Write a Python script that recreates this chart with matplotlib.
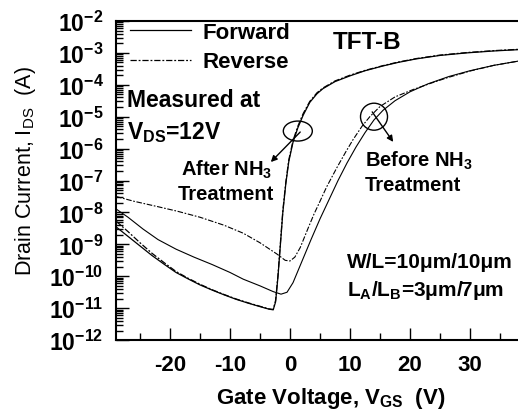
import matplotlib
matplotlib.use("Agg")
import matplotlib.pyplot as plt
from matplotlib.patches import Ellipse
from matplotlib.ticker import FixedLocator, FuncFormatter, LogLocator, MultipleLocator, NullFormatter
from matplotlib.transforms import ScaledTranslation
import numpy as np

plt.rcParams["font.family"] = ["Liberation Sans", "DejaVu Sans"]
plt.rcParams["mathtext.fontset"] = "custom"
plt.rcParams["mathtext.rm"] = "Liberation Sans"
plt.rcParams["mathtext.bf"] = "Liberation Sans:bold"
plt.rcParams["axes.unicode_minus"] = False

# gate voltage (V) and log10(drain current / A)
after_fwd_v = [-29, -27, -25, -23, -21, -19, -17, -15, -13, -11, -9, -7, -5, -3.5, -2.8,
               -2.4, -2.0, -1.6, -1.2, -0.7, -0.2, 0.5, 1.3, 2.2, 3.3, 4.5, 5.5, 7.5,
               10, 12.5, 15.5, 18, 21, 25, 29.5, 34, 38]
after_fwd_log = [-8.45, -8.75, -9.05, -9.35, -9.62, -9.88, -10.08, -10.27, -10.43, -10.58,
                 -10.72, -10.84, -10.95, -11.03, -11.05, -10.8, -10.0, -9.0, -8.0, -7.1,
                 -6.4, -5.8, -5.35, -4.95, -4.55, -4.28, -4.12, -3.9, -3.72, -3.56, -3.41,
                 -3.3, -3.19, -3.08, -3.0, -2.94, -2.9]

after_rev_v = [-29, -27, -25, -23, -21, -19, -17, -15, -13, -11, -9, -7, -5, -3.5, -2.8,
               -2.4, -2.0, -1.6, -1.2, -0.7, -0.2, 0.5, 1.3, 2.2, 3.3, 4.5, 5.5, 7.5,
               10, 12.5, 15.5, 18, 21, 25, 29.5, 34, 38]
after_rev_log = [-8.27, -8.6, -8.95, -9.28, -9.57, -9.85, -10.06, -10.25, -10.42, -10.57,
                 -10.71, -10.83, -10.94, -11.02, -11.04, -10.75, -9.95, -8.95, -7.95, -7.05,
                 -6.35, -5.75, -5.3, -4.9, -4.52, -4.25, -4.1, -3.88, -3.7, -3.55, -3.4,
                 -3.29, -3.18, -3.07, -2.99, -2.93, -2.89]

before_fwd_v = [-29, -27, -24.5, -22, -19, -16, -13, -10, -7.8, -5, -2.8, -1.5, -0.5, 0.5,
                1.5, 2.5, 3.5, 5, 6.5, 8, 9.5, 11, 12.5, 14, 15.5, 17.5, 20, 23, 26.5,
                30, 34, 38]
before_fwd_log = [-7.89, -8.15, -8.52, -8.85, -9.15, -9.4, -9.63, -9.88, -10.09, -10.3,
                  -10.48, -10.56, -10.5, -10.2, -9.75, -9.3, -8.85, -8.2, -7.6, -7.0,
                  -6.45, -5.95, -5.5, -5.1, -4.8, -4.5, -4.22, -3.97, -3.74, -3.56,
                  -3.39, -3.26]

before_rev_v = [-29, -26, -22, -18.8, -15, -11, -7.8, -5, -2.2, -0.8, 0, 0.8, 1.7, 3, 4,
                5, 6.1, 7.8, 9.3, 10.5, 12, 13.3, 15, 17.5, 20.5, 23.5, 26.2, 30, 34, 38]
before_rev_log = [-7.5, -7.65, -7.82, -7.96, -8.15, -8.4, -8.65, -8.95, -9.3, -9.5, -9.52,
                  -9.4, -9.1, -8.5, -8.05, -7.65, -7.2, -6.6, -6.1, -5.72, -5.3, -5.0,
                  -4.68, -4.38, -4.15, -3.95, -3.78, -3.57, -3.39, -3.26]

x_ticks = [-20, -10, 0, 10, 20, 30]
y_decades = list(range(-12, -1))

fig = plt.figure(figsize=(5.18, 4.14), dpi=100)
ax = fig.add_axes([0.224, 0.176, 0.776, 0.771])

dashdot = (0, (5, 1.5, 1.5, 1.5))
l_fwd, = ax.plot(after_fwd_v, 10 ** np.array(after_fwd_log), color="black", lw=0.9)
l_rev, = ax.plot(after_rev_v, 10 ** np.array(after_rev_log), color="black", lw=0.9, ls=dashdot)
ax.plot(before_fwd_v, 10 ** np.array(before_fwd_log), color="black", lw=0.8)
ax.plot(before_rev_v, 10 ** np.array(before_rev_log), color="black", lw=0.8, ls=dashdot)

ax.set_yscale("log")
ax.set_xlim(-29, 38)
ax.set_ylim(1e-12, 1e-2)

ax.xaxis.set_major_locator(FixedLocator(x_ticks))
ax.xaxis.set_minor_locator(MultipleLocator(5))
ax.yaxis.set_major_locator(FixedLocator([10.0 ** d for d in y_decades]))
ax.yaxis.set_minor_locator(LogLocator(base=10, subs=np.arange(2, 10), numticks=50))
ax.yaxis.set_minor_formatter(NullFormatter())
ax.yaxis.set_major_formatter(FuncFormatter(lambda v, p: r"$\mathbf{10^{%d}}$" % round(np.log10(v))))

ax.tick_params(which="both", direction="in", width=1.0, top=False, right=False)
ax.tick_params(which="major", length=9)
ax.tick_params(which="minor", length=5)
ax.tick_params(axis="y", which="major", labelsize=16.5, pad=9)
ax.tick_params(axis="x", which="major", labelsize=16, pad=10)
for lab in ax.get_xticklabels():
    lab.set_fontweight("bold")

for side in ["left", "bottom", "top"]:
    ax.spines[side].set_linewidth(1.5)
ax.spines["right"].set_visible(False)

ax.set_xlabel(r"Gate Voltage, V$_{\mathbf{GS}}$  (V)", fontsize=16, fontweight="bold")
ax.xaxis.set_label_coords(0.535, -0.14)
ax.set_ylabel(r"Drain Current, I$_{\mathregular{DS}}$  (A)", fontsize=15.5)
ax.yaxis.set_label_coords(-0.194, 0.533)

ax.legend([l_fwd, l_rev], ["Forward", "Reverse"], loc="upper left",
          bbox_to_anchor=(0.03, 1.005), frameon=False, borderpad=0.1, borderaxespad=0,
          handlelength=2.75, handletextpad=0.5, labelspacing=0.4,
          prop={"size": 16, "weight": "bold"})

tkw = dict(transform=ax.transAxes, fontweight="bold", va="center")
ax.text(0.54, 0.937, "TFT-B", fontsize=17.5, ha="left", **tkw)
ax.text(0.028, 0.755, "Measured at", fontsize=16.5, ha="left", **tkw)
ax.text(0.028, 0.652, r"V$_{\mathbf{DS}}$=12V", fontsize=16.5, ha="left", **tkw)
ax.text(0.274, 0.536, r"After NH$_{\mathbf{3}}$", fontsize=14.5, ha="center", **tkw)
ax.text(0.274, 0.458, "Treatment", fontsize=14.5, ha="center", **tkw)
ax.text(0.619, 0.564, r"Before NH$_{\mathbf{3}}$", fontsize=14.5, ha="left", **tkw)
ax.text(0.619, 0.489, "Treatment", fontsize=14.5, ha="left", **tkw)
ax.text(0.575, 0.245, "W/L=10\u03bcm/10\u03bcm", fontsize=15, ha="left", **tkw)
ax.text(0.575, 0.160, "L$_{\\mathbf{A}}$/L$_{\\mathbf{B}}$=3\u03bcm/7\u03bcm",
        fontsize=15, ha="left", **tkw)

# circles marking the curves, sized in inches around a data point
for cx, cy, w, h in [(1.3, 10 ** -5.45, 0.29, 0.20), (14.0, 10 ** -5.0, 0.27, 0.27)]:
    e = Ellipse((0, 0), w, h, fill=False, edgecolor="black", lw=1.0,
                transform=fig.dpi_scale_trans + ScaledTranslation(cx, cy, ax.transData))
    ax.add_patch(e)

arrow = dict(arrowstyle="-|>", color="black", lw=1.0, mutation_scale=9, shrinkA=0, shrinkB=0)
ax.annotate("", xy=(-3.2, 10 ** -6.42), xytext=(1.7, 10 ** -5.48), arrowprops=arrow)
ax.annotate("", xy=(17.2, 10 ** -5.79), xytext=(13.7, 10 ** -4.85), arrowprops=arrow)

fig.savefig("out.png", dpi=100)
